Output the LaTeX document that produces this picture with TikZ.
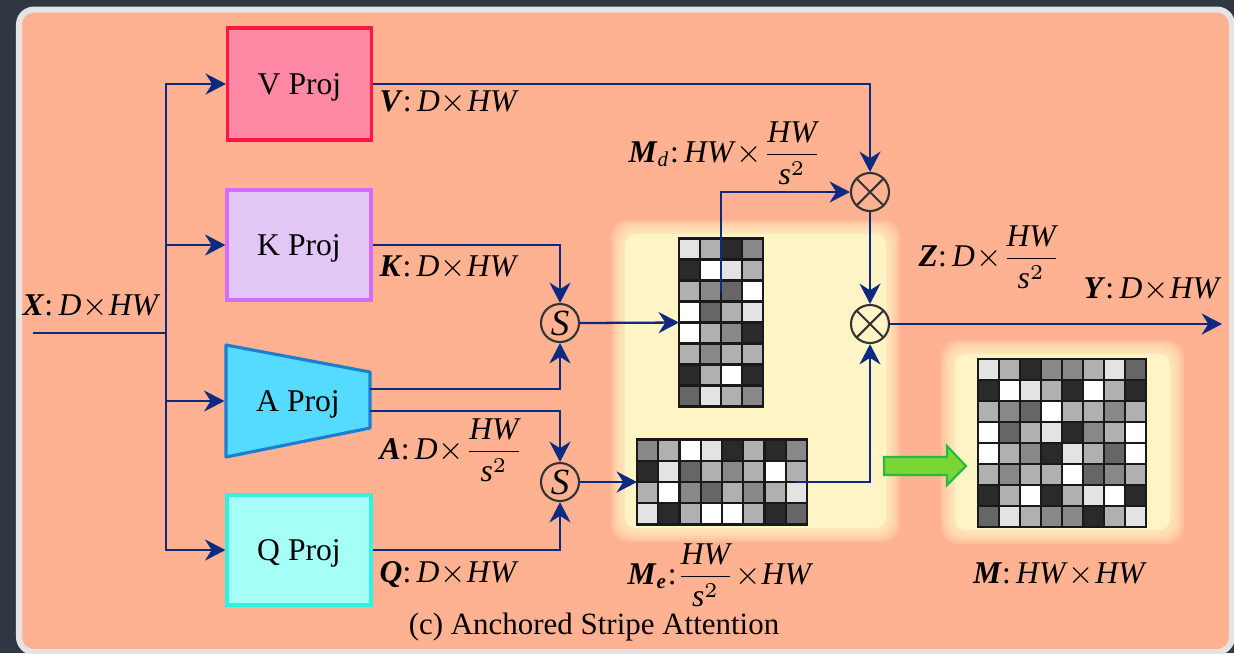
\documentclass[tikz,border=0pt]{standalone}
\usepackage{fontspec}
\setmainfont{Liberation Serif}
\usepackage{amsmath}
\usepackage{tikz}
\usetikzlibrary{arrows.meta, calc, positioning}

\definecolor{framebg}{HTML}{2E3742}
\definecolor{framerim}{HTML}{E4E4E4}
\definecolor{salmon}{HTML}{FFB291}
\definecolor{glowyellow}{HTML}{FFF4C6}
\definecolor{navy}{HTML}{0B2A80}
\definecolor{opgray}{HTML}{333333}
\definecolor{vfill}{HTML}{FF88A5}
\definecolor{vdraw}{HTML}{FF1744}
\definecolor{kfill}{HTML}{E2C6F5}
\definecolor{kdraw}{HTML}{D36BFF}
\definecolor{afill}{HTML}{55DBFF}
\definecolor{adraw}{HTML}{1E7FD0}
\definecolor{qfill}{HTML}{A5FFF7}
\definecolor{qdraw}{HTML}{2EF2E2}
\definecolor{arrowfill}{HTML}{7BD635}
\definecolor{arrowdraw}{HTML}{22BB44}
\colorlet{heatW}{white}
\definecolor{heatL}{HTML}{E3E3E3}
\definecolor{heatM}{HTML}{B0B0B0}
\definecolor{heatG}{HTML}{888888}
\definecolor{heatD}{HTML}{666666}
\definecolor{heatK}{HTML}{2A2A2A}

% symbols in the shape labels
\newcommand{\tn}[1]{\textbf{\textit{#1}}}
\newcommand{\ti}[1]{\textit{#1}}
\newcommand{\by}{\kern0.3pt$\times$\kern0.3pt}
\newcommand{\hws}{$\dfrac{\ti{HW}}{\ti{s}^{2}}$}

% grid of grey cells, #1 anchor node, #2 cell size, #3 rows
\newcommand{\heatgrid}[3]{%
  \foreach \cellrow [count=\r] in {#3} {
    \foreach \cellval [count=\c] in \cellrow {
      \draw[heatcell, fill=heat\cellval] ($(#1.north west)+({(\c-1)*#2},{(\r-1)*#2})$) rectangle +(#2,#2);
    }
  }
}
% soft yellow panel behind the matrices
\newcommand{\glowpanel}[2]{%
  \foreach \k in {0,...,6} {
    \fill[glowyellow, opacity=0.2, rounded corners=5pt] ($(#1)+(-4+2*\k,-4+2*\k)$) rectangle ($(#2)-(-4+2*\k,-4+2*\k)$);
  }
  \fill[glowyellow, rounded corners=3pt] ($(#1)+(10,10)$) rectangle ($(#2)-(10,10)$);
}

\begin{document}
\begin{tikzpicture}[x=0.01cm, y=-0.01cm,
    projbox/.style={draw, line width=0.9pt, minimum width=1.44cm, minimum height=1.12cm, inner sep=0, text depth=0pt, font=\fontsize{9}{10}\selectfont},
    flow/.style={-{Stealth[length=5.8pt, width=6pt, inset=1.9pt]}, navy, line width=0.65pt},
    link/.style={navy, line width=0.65pt},
    sumop/.style={circle, draw=opgray, line width=0.6pt, minimum size=0.38cm, inner sep=0, font=\fontsize{10.5}{12}\selectfont},
    mulop/.style={circle, draw=opgray, line width=0.6pt, minimum size=0.38cm, inner sep=0,
        path picture={\draw[opgray, line width=0.6pt] (path picture bounding box.north west) -- (path picture bounding box.south east)
            (path picture bounding box.north east) -- (path picture bounding box.south west);}},
    dimlabel/.style={anchor=west, inner sep=0, font=\fontsize{9}{10}\selectfont},
    gridbox/.style={inner sep=0, outer sep=0},
    heatcell/.style={draw=black!90, line width=0.6pt}
  ]
    \useasboundingbox (0,0) rectangle (1234,653);
    \fill[framebg] (0,0) rectangle (1234,653);
    \draw[framerim, fill=salmon, line width=0.06cm, rounded corners=0.15cm] (19,9.5) rectangle (1232,652);

    \glowpanel{615,224}{896,538}
    \glowpanel{945,344}{1180,540}

    % projections
    \node[projbox, draw=vdraw, fill=vfill] (vproj) at (299.5,84) {V Proj};
    \node[projbox, draw=kdraw, fill=kfill, minimum height=1.1cm] (kproj) at (299,245) {K Proj};
    \node[projbox, draw=qdraw, fill=qfill, minimum height=1.1cm] (qproj) at (299,550) {Q Proj};
    \draw[adraw, fill=afill, line width=0.9pt, line join=round] (226,345) -- (370,372) -- (370,428) -- (226,457) -- cycle;
    \node[projbox, draw=none, minimum height=1.12cm] (aproj) at (298,401) {A Proj};

    % matrices
    \node[gridbox, minimum width=0.84cm, minimum height=1.68cm] (mtall) at (721,322.5) {};
    \node[gridbox, minimum width=1.7cm, minimum height=0.85cm] (mwide) at (722,482) {};
    \node[gridbox, minimum width=1.68cm, minimum height=1.68cm] (mfull) at (1062,443) {};
    \heatgrid{mtall}{21}{{L,M,K,G},{K,W,L,M},{M,G,D,W},{W,D,M,L},{W,M,G,K},{M,G,M,M},{K,M,W,K},{D,L,M,G}}
    \heatgrid{mwide}{21.25}{{G,M,W,L,K,M,K,G},{K,L,D,M,G,M,W,M},{M,W,G,D,M,G,M,L},{L,K,M,W,W,M,K,D}}
    \heatgrid{mfull}{21}{{L,M,K,G,G,M,L,D},{K,W,L,M,K,W,M,K},{M,G,D,W,M,M,G,M},{W,D,M,L,K,G,M,W},{W,M,G,K,L,M,D,W},{M,G,M,M,W,D,G,M},{K,M,W,K,M,L,W,K},{D,L,M,G,G,K,M,L}}

    % operators
    \node[sumop] (s1) at (560,323) {\ti{S}};
    \node[sumop] (s2) at (560,482) {\ti{S}};
    \node[mulop] (mul1) at (870,192) {};
    \node[mulop] (mul2) at (870,324) {};

    \coordinate (xin) at (33,333);
    \coordinate (bus) at (166,333);
    \coordinate (aout1) at (370,389);
    \coordinate (aout2) at (370,411);
    \coordinate (mdstart) at (721,292);
    \coordinate (mestart) at (795,482);
    \coordinate (yout) at (1222,324);

    % input bus
    \draw[link] (xin) -- (bus);
    \draw[flow] (bus) |- (vproj.west);
    \draw[flow] (bus) |- (kproj.west);
    \draw[flow] (bus) |- (aproj.west);
    \draw[flow] (bus) |- (qproj.west);

    % outputs
    \draw[flow] (vproj.east) -| (mul1.north);
    \draw[flow] (kproj.east) -| (s1.north);
    \draw[flow] (aout1) -| (s1.south);
    \draw[flow] (aout2) -| (s2.north);
    \draw[flow] (qproj.east) -| (s2.south);
    \draw[flow] (s1.east) -- (mtall.west);
    \draw[flow] (s2.east) -- (mwide.west);
    \draw[flow] (mdstart) |- (mul1.west);
    \draw[flow] (mestart) -| (mul2.south);
    \draw[flow] (mul1.south) -- (mul2.north);
    \draw[flow] (mul2.east) -- (yout);

    % expand arrow
    \draw[arrowdraw, fill=arrowfill, line width=0.6pt] (884,457) -- (947,457) -- (947,446) -- (966,466) -- (947,485) -- (947,475) -- (884,475) -- cycle;

    % shapes
    \node[dimlabel] (xlab) at (22,307) {\tn{X}:\,\ti{D}\by\ti{HW}};
    \node[dimlabel] (vlab) at (379,103) {\tn{V}:\,\ti{D}\by\ti{HW}};
    \node[dimlabel] (klab) at (379,268) {\tn{K}:\,\ti{D}\by\ti{HW}};
    \node[dimlabel] (alab) at (379,450) {\tn{A}:\,\ti{D}\by\hws};
    \node[dimlabel] (qlab) at (379,575) {\tn{Q}:\,\ti{D}\by\ti{HW}};
    \node[dimlabel] (mdlab) at (628,153) {\tn{M}\textsubscript{\ti{d}}:\,\ti{HW}\by\hws};
    \node[dimlabel] (melab) at (627,575) {\tn{M}\textsubscript{\tn{e}}:\hws\by\ti{HW}};
    \node[dimlabel] (zlab) at (918,257) {\tn{Z}:\,\ti{D}\by\hws};
    \node[dimlabel] (ylab) at (1083,290) {\tn{Y}:\,\ti{D}\by\ti{HW}};
    \node[dimlabel, anchor=center] (mlab) at (1060,575) {\tn{M}:\,\ti{HW}\by\ti{HW}};

    \node[font=\fontsize{8.8}{10}\selectfont, inner sep=0] (caption) at (594,627) {(c) Anchored Stripe Attention};
\end{tikzpicture}
\end{document}
